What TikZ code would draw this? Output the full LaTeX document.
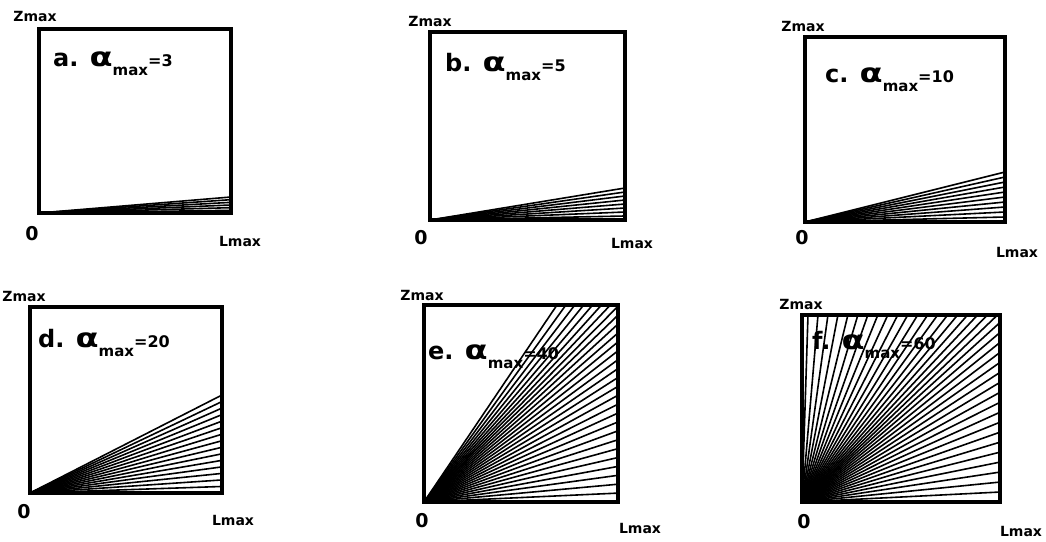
\documentclass[tikz,border=0pt]{standalone}
\usepackage{fontspec}
\setmainfont{DejaVu Sans}
\usepackage{graphicx}

%% alpha_max = value, as lettered on the panels
\newcommand{\amax}[1]{\scalebox{1.4}[1.1]{α}\raisebox{-9pt}{\fontsize{15}{15}\selectfont max}{\fontsize{16}{16}\selectfont =#1}}

\tikzset{
  frame/.style={line width=3.2pt},
  ray/.style={line width=1.6pt},
  title/.style={anchor=base west, inner sep=0pt, font=\fontsize{24}{24}\selectfont\bfseries},
  axlabel/.style={inner sep=0pt, font=\fontsize{14}{14}\selectfont\bfseries},
  origin/.style={inner sep=0pt, font=\fontsize{19}{19}\selectfont\bfseries}
}

\begin{document}
\begin{tikzpicture}[x=1pt,y=1pt]

  \useasboundingbox (0,0) rectangle (1046,541);

  %% ---- a ----
  \begin{scope}[shift={(39,328)}]
    \draw[frame] (0,0) rectangle (192,184);
    \node[title] (ta) at (14,146) {a. \amax{3}};
    \foreach \k in {0,...,6}{
      \pgfmathsetmacro{\s}{16*\k/6}
      \draw[ray] (0,0) -- ({192-max(0,\s-184)},{min(\s,184)});
    }
  \end{scope}
  \node[axlabel] (za) at (35,524) {Zmax};
  \node[origin] (oa) at (32,307) {0};
  \node[axlabel] (la) at (240,300) {Lmax};

  %% ---- b ----
  \begin{scope}[shift={(430,321)}]
    \draw[frame] (0,0) rectangle (195,188);
    \node[title] (tb) at (15,148) {b. \amax{5}};
    \foreach \k in {0,...,8}{
      \pgfmathsetmacro{\s}{32*\k/8}
      \draw[ray] (0,0) -- ({195-max(0,\s-188)},{min(\s,188)});
    }
  \end{scope}
  \node[axlabel] (zb) at (430,519) {Zmax};
  \node[origin] (ob) at (421,303) {0};
  \node[axlabel] (lb) at (632,298) {Lmax};

  %% ---- c ----
  \begin{scope}[shift={(805,319)}]
    \draw[frame] (0,0) rectangle (200,185);
    \node[title] (tc) at (20,139) {c. \amax{10}};
    \foreach \k in {0,...,10}{
      \pgfmathsetmacro{\s}{50*\k/10}
      \draw[ray] (0,0) -- ({200-max(0,\s-185)},{min(\s,185)});
    }
  \end{scope}
  \node[axlabel] (zc) at (803,514) {Zmax};
  \node[origin] (oc) at (802,303) {0};
  \node[axlabel] (lc) at (1017,289) {Lmax};

  %% ---- d ----
  \begin{scope}[shift={(30,48)}]
    \draw[frame] (0,0) rectangle (192,186);
    \node[title] (td) at (8,145) {d. \amax{20}};
    \foreach \k in {0,...,15}{
      \pgfmathsetmacro{\s}{98*\k/15}
      \draw[ray] (0,0) -- ({192-max(0,\s-186)},{min(\s,186)});
    }
  \end{scope}
  \node[axlabel] (zd) at (24,245) {Zmax};
  \node[origin] (od) at (24,29) {0};
  \node[axlabel] (ld) at (233,21) {Lmax};

  %% ---- e ----
  \begin{scope}[shift={(424,39)}]
    \draw[frame] (0,0) rectangle (194,197);
    \node[title] (te) at (4,142) {e. \amax{40}};
    \foreach \k in {0,...,29}{
      \pgfmathsetmacro{\s}{258*\k/29}
      \draw[ray] (0,0) -- ({194-max(0,\s-197)},{min(\s,197)});
    }
  \end{scope}
  \node[axlabel] (ze) at (422,246) {Zmax};
  \node[origin] (oe) at (422,20) {0};
  \node[axlabel] (le) at (640,13) {Lmax};

  %% ---- f ----
  \begin{scope}[shift={(802,39)}]
    \draw[frame] (0,0) rectangle (198,187);
    \node[title] (tf) at (10,152) {f. \amax{60}};
    \foreach \k in {0,...,38}{
      \pgfmathsetmacro{\s}{379*\k/38}
      \draw[ray] (0,0) -- ({198-max(0,\s-187)},{min(\s,187)});
    }
  \end{scope}
  \node[axlabel] (zf) at (801,237) {Zmax};
  \node[origin] (of) at (804,19) {0};
  \node[axlabel] (lf) at (1021,10) {Lmax};

\end{tikzpicture}
\end{document}
